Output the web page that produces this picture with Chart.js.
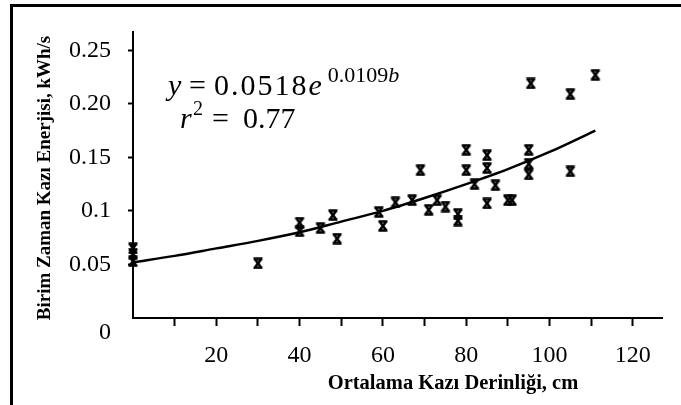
<!DOCTYPE html>
<html>
<head>
<meta charset="utf-8">
<script src="https://cdn.jsdelivr.net/npm/chart.js@4.4.0/dist/chart.umd.min.js"></script>
<style>
  body { margin: 0; background: #fff; }
  #wrap { position: relative; width: 681px; height: 405px; overflow: hidden; }
  #frame { position: absolute; left: 10px; top: 4px; width: 700px; height: 450px; border: 3px solid #000; pointer-events: none; }
</style>
</head>
<body>
<div id="wrap">
  <canvas id="chart" width="681" height="405"></canvas>
  <div id="frame"></div>
</div>
<script>
const depth = [0, 0, 0, 30, 40, 40, 45, 48, 49, 59, 60, 63, 67, 69, 71, 73, 75, 78, 78, 80, 80, 82, 85, 85, 85, 87, 90, 91, 95, 95, 95, 95.5, 105, 105, 111];
const energy = [0.065, 0.060, 0.053, 0.051, 0.089, 0.081, 0.084, 0.096, 0.074, 0.099, 0.086, 0.108, 0.110, 0.138, 0.101, 0.110, 0.104, 0.097, 0.091, 0.157, 0.138, 0.125, 0.152, 0.140, 0.107, 0.124, 0.110, 0.110, 0.157, 0.144, 0.134, 0.219, 0.209, 0.137, 0.227];

// trend line
const fitDepth = [0, 10, 20, 30, 40, 50, 60, 70, 80, 90, 100, 111];
const fitEnergy = [0.052, 0.058, 0.065, 0.072, 0.080, 0.090, 0.100, 0.112, 0.125, 0.139, 0.155, 0.175];

const xTicks = [10, 20, 30, 40, 50, 60, 70, 80, 90, 100, 110, 120];
const xLabels = ['', '20', '', '40', '', '60', '', '80', '', '100', '', '120'];
const yTicks = [0, 0.05, 0.1, 0.15, 0.2, 0.25];
const yLabels = ['0', '0.05', '0.1', '0.15', '0.20', '0.25'];

const serif = '"Liberation Serif", "Times New Roman", serif';

function makeMarker() {
  const c = document.createElement('canvas');
  c.width = 12; c.height = 12;
  const g = c.getContext('2d');
  g.strokeStyle = '#000';
  g.lineWidth = 2.6;
  g.beginPath();
  g.moveTo(1.5, 1.5); g.lineTo(10.5, 1.5);
  g.moveTo(1.5, 10.5); g.lineTo(10.5, 10.5);
  g.moveTo(3, 2); g.lineTo(9, 10);
  g.moveTo(9, 2); g.lineTo(3, 10);
  g.stroke();
  return c;
}

const textPlugin = {
  id: 'texts',
  afterDraw(chart) {
    const ctx = chart.ctx;
    ctx.save();
    ctx.fillStyle = '#000';
    ctx.textBaseline = 'alphabetic';
    ctx.textAlign = 'left';

    // equation
    ctx.font = 'italic 30px ' + serif;
    ctx.fillText('y', 168, 95);
    ctx.font = '30px ' + serif;
    ctx.fillText('=', 189, 95);
    ctx.letterSpacing = '2px';
    ctx.fillText('0.0518', 214, 95);
    let x = 214 + ctx.measureText('0.0518').width;
    ctx.letterSpacing = '0px';
    ctx.font = 'italic 30px ' + serif;
    ctx.fillText('e', x, 95);
    x += ctx.measureText('e').width + 6;
    ctx.font = '22px ' + serif;
    ctx.fillText('0.0109', x, 82);
    x += ctx.measureText('0.0109').width;
    ctx.font = 'italic 22px ' + serif;
    ctx.fillText('b', x, 82);

    ctx.font = 'italic 30px ' + serif;
    ctx.fillText('r', 180, 128);
    ctx.font = '20px ' + serif;
    ctx.fillText('2', 193, 115);
    ctx.font = '30px ' + serif;
    ctx.fillText('=', 212, 128);
    ctx.fillText('0.77', 243, 128);

    // axis titles
    ctx.font = 'bold 20.5px ' + serif;
    ctx.textAlign = 'center';
    ctx.fillText('Ortalama Kazı Derinliği, cm', 453, 389);

    ctx.font = 'bold 19px ' + serif;
    ctx.translate(50, 178);
    ctx.rotate(-Math.PI / 2);
    ctx.fillText('Birim Zaman Kazı Enerjisi, kWh/s', 0, 0);
    ctx.restore();
  }
};

const hideZero = (c) => (c.tick && c.tick.value === 0) ? 'rgba(0,0,0,0)' : '#000';

new Chart(document.getElementById('chart'), {
  data: {
    datasets: [
      {
        type: 'line',
        data: fitDepth.map((x, i) => ({ x: x, y: fitEnergy[i] })),
        borderColor: '#000',
        borderWidth: 2.5,
        pointRadius: 0,
        cubicInterpolationMode: 'monotone',
        fill: false
      },
      {
        type: 'scatter',
        data: depth.map((x, i) => ({ x: x, y: energy[i] })),
        pointStyle: makeMarker(),
        pointRadius: 6,
        clip: false
      }
    ]
  },
  options: {
    responsive: false,
    animation: false,
    layout: { padding: { top: 32, right: 19, left: 0, bottom: 0 } },
    plugins: { legend: { display: false }, tooltip: { enabled: false } },
    scales: {
      x: {
        type: 'linear',
        min: 0,
        max: 127,
        afterBuildTicks: (s) => { s.ticks = xTicks.map(v => ({ value: v })); },
        afterFit: (s) => { s.height = 87; },
        border: { display: true, color: '#000', width: 2 },
        grid: { drawOnChartArea: false, drawTicks: true, tickLength: 8, tickWidth: 2, color: hideZero },
        ticks: {
          autoSkip: false,
          maxRotation: 0,
          padding: 15,
          color: '#000',
          font: { family: serif, size: 24 },
          callback: (v, i) => xLabels[i]
        }
      },
      y: {
        type: 'linear',
        min: 0,
        max: 0.267,
        afterBuildTicks: (s) => { s.ticks = yTicks.map(v => ({ value: v })); },
        afterFit: (s) => { s.width = 133; },
        border: { display: true, color: '#000', width: 2 },
        grid: { drawOnChartArea: false, drawTicks: true, tickLength: 5, tickWidth: 2, color: hideZero },
        ticks: {
          autoSkip: false,
          padding: 17,
          color: '#000',
          font: { family: serif, size: 24 },
          callback: (v, i) => i === 0 ? ['', yLabels[i]] : yLabels[i]
        }
      }
    }
  },
  plugins: [textPlugin]
});
</script>
</body>
</html>
